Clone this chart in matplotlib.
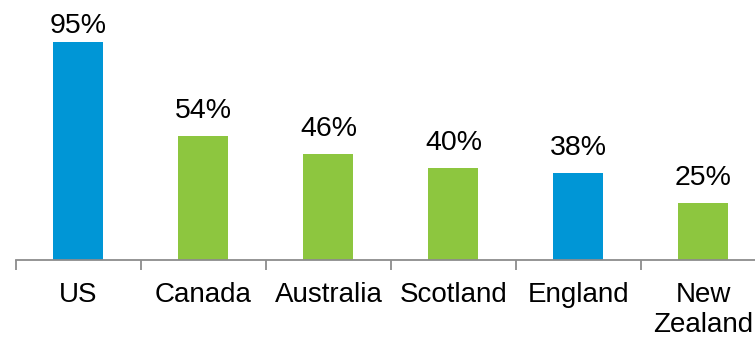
import matplotlib.pyplot as plt
import numpy as np

# share of respondents by country
countries = ['US', 'Canada', 'Australia', 'Scotland', 'England', 'New\nZealand']
pct = [95, 54, 46, 40, 38, 25]
bar_colors = ['#0096D6', '#8DC63F', '#8DC63F', '#8DC63F', '#0096D6', '#8DC63F']

plt.rcParams['font.family'] = ['Liberation Sans', 'DejaVu Sans']

px = 2.295  # pixels per percent point
fig = plt.figure(figsize=(7.55, 3.38), dpi=100)
# axis runs from x=16px to past the right edge, baseline at y=260px
ax = fig.add_axes([16/755, (338-260)/338, 750/755, 260/338])

x = np.arange(len(countries))
ax.bar(x, pct, width=0.4, color=bar_colors)

# labels sit 18px above the bar, but never above the top of the plot
for xi, v in zip(x, pct):
    ly = min(v + 18/px, 227/px)
    ax.text(xi, ly, '{0}%'.format(v), ha='center', va='baseline',
            fontsize=20.5, color='black')

ax.set_xlim(-0.5, len(countries) - 0.5)
ax.set_ylim(0, 260/px)

for s in ['top', 'right', 'left']:
    ax.spines[s].set_visible(False)
ax.spines['bottom'].set_color('#8C8C8C')
ax.spines['bottom'].set_linewidth(1.3)

ax.set_yticks([])
ax.set_xticks(x)
ax.set_xticklabels(countries, fontsize=20)
ax.tick_params(axis='x', which='major', length=0, pad=16)
ax.set_xticks(np.arange(-0.5, len(countries), 1), minor=True)
ax.tick_params(axis='x', which='minor', length=7, width=1.3, color='#8C8C8C')

fig.savefig('out.png', dpi=100)
